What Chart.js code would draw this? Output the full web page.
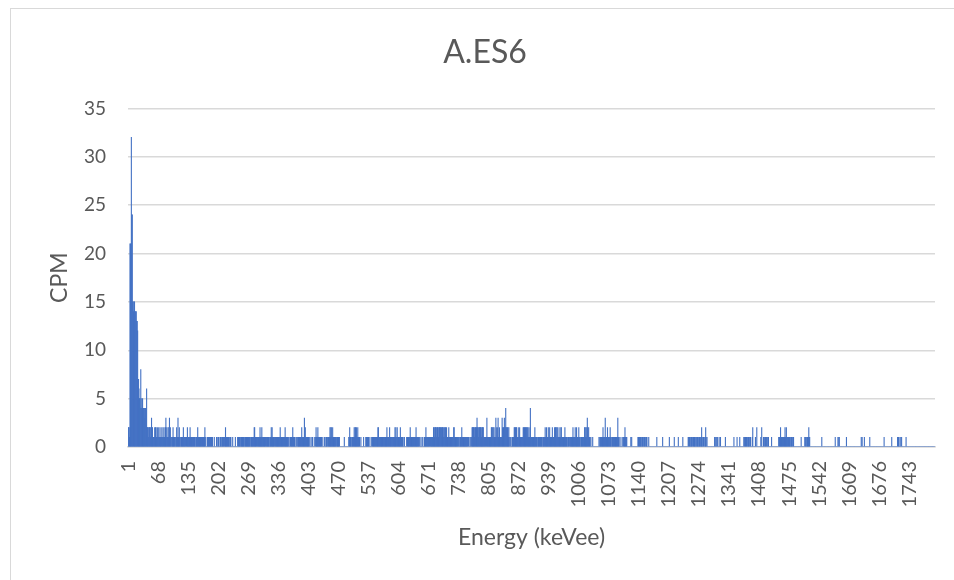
<!DOCTYPE html>
<html>
<head>
<meta charset="utf-8">
<script src="https://cdn.jsdelivr.net/npm/chart.js@4.4.1/dist/chart.umd.min.js"></script>
<style>
  body { margin: 0; background: #fff; }
  #wrap { position: relative; width: 954px; height: 580px; overflow: hidden; }
  #frame { position: absolute; left: 10px; top: 8px; width: 960px; height: 600px; border: 1px solid #d9d9d9; }
  canvas { position: absolute; left: 0; top: 0; }
</style>
</head>
<body>
<div id="wrap">
  <div id="frame"></div>
  <canvas id="spectrumChart" width="954" height="580"></canvas>
</div>
<script>
// counts for the first channels (1..42), where the peak sits
const peakCpm = [2, 2, 2, 1, 21, 21, 20, 32, 24, 24, 15, 15, 14, 15, 15, 14, 14, 13, 14, 13, 13, 12,
  7, 7, 6, 5, 5, 4, 8, 5, 4, 4, 5, 4, 4, 4, 4, 3, 4, 4, 4, 6];

// remaining channels, one digit per channel, one row per tick interval (67 channels)
const tailCpm = [
  '2221222212322111121221121',
  '1211211121121112231211212312101112111101121131121101111121111101121',
  '1111211111111111011112111111111111111210001111111111111000100001001',
  '1100111011111011211111111011100010000010000101111011111111011111111',
  '1111101111111221111011111121112111111110111111101112121111101111111',
  '1111211111111112111111101001111121111100100111111111211111312111111',
  '1101001001000100121112111111110010001001111011112122112111111101111',
  '1110000000000100000000011211101111121221211211110010000010000111111',
  '1001000101111111111112211111111111111111121111121111111111121211211',
  '1111211111100100001011111121111111111112111111010010010001111211111',
  '1110111111122122221222122222122221221221211112111111111122111111110',
  '1101111211111111111110100101012222212222232212222221222211111013111',
  '1111112212212111321123112111113212232242212212100100111112212221112',
  '1121111111221222122122111241111111112111110111111111101111121121112',
  '1121111121111212212211121112211111112111110110101111112111121121111',
  '2111011111111221212321211101000100000000000001011111112111131111211',
  '1112110111111111111131110001000101112111100000000101000000000000011',
  '1111110111011110111000100000000000000000100000000000010000000000000',
  '0100000000001000000001000000000100000000000110110111010111101101110',
  '1110112101100112101000000000000000011010110001001000000000010000000',
  '0000000000010000001000001000000001011101101111011000120000010020000',
  '0000102000110111011011000000100000000000000011112111111111211211111',
  '1110111101100000000000000001000000010110111121100000000000000000000',
  '0000001000000000000000000000000000001000001011000000000000000100000',
  '0000000000000000000000000001010000100000000000100000000000000000000',
  '0000000000010000000000000000100000000000010110010010000000001000000',
  '0000000000000000000000000000000000000000000000000000000000'
];

const yTicks = [0, 5, 10, 15, 20, 25, 30, 35];
const labelStep = 67;

const cpm = peakCpm.concat(tailCpm.join('').split('').map(Number));
const energies = cpm.map((v, i) => String(i + 1));

const grey = '#595959';
const family = 'Lato, "Open Sans", sans-serif';

new Chart(document.getElementById('spectrumChart'), {
  type: 'bar',
  data: {
    labels: energies,
    datasets: [{
      data: cpm,
      backgroundColor: '#4472C4',
      borderWidth: 0,
      barPercentage: 1,
      categoryPercentage: 1
    }]
  },
  options: {
    responsive: false,
    animation: false,
    layout: { padding: { left: 35, right: 19, top: 0, bottom: 0 } },
    plugins: {
      legend: { display: false },
      tooltip: { enabled: false },
      title: {
        display: true,
        text: 'A.ES6',
        color: grey,
        font: { family: family, size: 32, weight: 'normal' },
        padding: { top: 33, bottom: 37 }
      }
    },
    scales: {
      x: {
        grid: { display: false },
        border: { color: '#d9d9d9', width: 1.5 },
        ticks: {
          autoSkip: false,
          minRotation: 90,
          maxRotation: 90,
          padding: 6,
          color: grey,
          font: { family: family, size: 20 },
          callback: function (value, index) {
            return index % labelStep === 0 ? this.getLabelForValue(value) : '';
          }
        },
        title: {
          display: true,
          text: 'Energy (keVee)',
          color: grey,
          font: { family: family, size: 23 },
          padding: { top: 0, bottom: 29 }
        },
        afterFit: (scale) => {
          scale.height = 133;
          scale.paddingLeft = 0;
          scale.paddingRight = 0;
        }
      },
      y: {
        min: 0,
        max: 35,
        afterBuildTicks: (scale) => { scale.ticks = yTicks.map(v => ({ value: v })); },
        grid: { color: '#d9d9d9', lineWidth: 1.5, drawTicks: false },
        border: { display: false },
        ticks: { padding: 22, color: grey, font: { family: family, size: 19 } },
        title: {
          display: true,
          text: 'CPM',
          color: grey,
          font: { family: family, size: 23 },
          padding: { top: 11, bottom: 0 }
        },
        afterFit: (scale) => {
          scale.width = 93;
          scale.paddingTop = 0;
          scale.paddingBottom = 0;
        }
      }
    }
  }
});
</script>
</body>
</html>
